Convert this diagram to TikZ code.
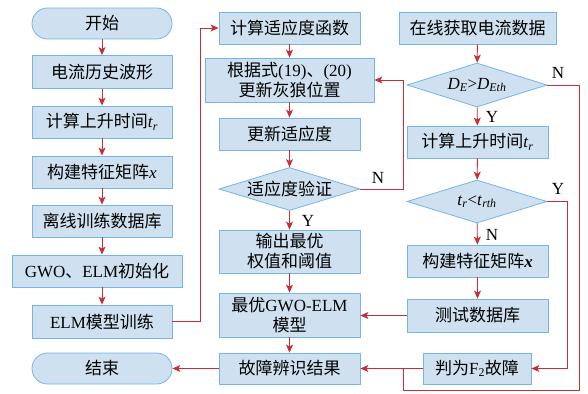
\documentclass[tikz,border=0pt]{standalone}
\usepackage{fontspec}
\setmainfont{Liberation Serif}
\newfontfamily\zh{Noto Sans CJK SC}
\usetikzlibrary{shapes.geometric,arrows.meta}
\definecolor{boxfill}{HTML}{CFE1F0}
\definecolor{boxdraw}{HTML}{74B6E2}
\definecolor{arrred}{HTML}{C62F37}
\tikzset{
  base/.style={draw=boxdraw,fill=boxfill,line width=0.8pt,inner sep=0pt,
    font=\fontsize{17}{20}\selectfont,align=center},
  procbox/.style={base,rectangle,minimum width=141pt,minimum height=32pt},
  termbox/.style={base,rectangle,rounded corners=15.5pt,minimum width=140pt,minimum height=31pt},
  diabox/.style={base,diamond,minimum width=141pt,minimum height=43pt},
  ln/.style={draw=arrred,line width=0.9pt},
  arr/.style={ln,-{Stealth[length=8pt,width=7pt,inset=2pt]}},
  lbl/.style={font=\fontsize{17}{20}\selectfont,inner sep=0pt},
  dtext/.style={font=\fontsize{17}{20}\selectfont,inner sep=0pt,align=center}
}
\begin{document}
\begin{tikzpicture}[x=1pt,y=-1pt]
\useasboundingbox (0,0) rectangle (588,393);
% left column
\node[termbox] (start) at (102,23.5) {\zh 开始};
\node[procbox,minimum width=140pt,minimum height=33pt] (n1) at (102,72) {\zh 电流历史波形};
\node[procbox,minimum width=140pt] (n2) at (102,122) {{\zh 计算上升时间}\textit{t}\textsubscript{\textit{r}}};
\node[procbox,minimum width=140pt] (n3) at (102,172) {{\zh 构建特征矩阵}\textit{x}};
\node[procbox,minimum width=140pt] (n4) at (102,221) {\zh 离线训练数据库};
\node[procbox,minimum width=170pt] (n5) at (97,271) {GWO{\zh 、}ELM{\zh 初始化}};
\node[procbox,minimum width=140pt,minimum height=33pt] (n6) at (102,321.5) {ELM{\zh 模型训练}};
\node[termbox] (stop) at (102,368.5) {\zh 结束};
% middle column
\node[procbox] (m1) at (289.5,28) {\zh 计算适应度函数};
\node[procbox,minimum width=169pt,minimum height=44pt] (m2) at (289.5,80) {{\zh 根据式}(19){\zh 、}(20)\\{\zh 更新灰狼位置}};
\node[procbox] (m3) at (289.5,134) {\zh 更新适应度};
\node[diabox] (d1) at (289.5,189) {};
\node[dtext] (d1t) at (d1) {\zh 适应度验证};
\node[procbox,minimum height=43pt] (m4) at (289.5,251.5) {{\zh 输出最优}\\{\zh 权值和阈值}};
\node[procbox,minimum height=44pt] (m5) at (289.5,315) {{\zh 最优}GWO-ELM\\{\zh 模型}};
\node[procbox,minimum height=31pt] (m6) at (289.5,368.5) {\zh 故障辨识结果};
% right column
\node[procbox,minimum width=157pt] (r1) at (477.5,28) {\zh 在线获取电流数据};
\node[diabox,minimum width=140pt,minimum height=44pt] (d2) at (477,85) {};
\node[dtext] (d2t) at (d2) {\textit{D}\textsubscript{\textit{E}}>\textit{D}\textsubscript{\textit{Eth}}};
\node[procbox] (r2) at (477.5,142) {{\zh 计算上升时间}\textit{t}\textsubscript{\textit{r}}};
\node[diabox,minimum width=140pt] (d3) at (477,201.5) {};
\node[dtext] (d3t) at (d3) {\textit{t}\textsubscript{\textit{r}}<\textit{t}\textsubscript{\textit{rth}}};
\node[procbox] (r3) at (477.5,261) {{\zh 构建特征矩阵}\textbf{\textit{x}}};
\node[procbox,minimum height=33pt] (r4) at (477.5,315.5) {\zh 测试数据库};
\node[procbox,minimum width=108pt,minimum height=31pt] (r5) at (477,368.5) {{\zh 判为}F\textsubscript{2}{\zh 故障}};
% labels
\node[lbl] (ln1) at (378,178) {N};
\node[lbl] (ly1) at (308,221) {Y};
\node[lbl] (ln2) at (558,73) {N};
\node[lbl] (ly2) at (492,117) {Y};
\node[lbl] (ly3) at (558,189) {Y};
\node[lbl] (ln3) at (492,235) {N};
% left arrows
\draw[arr] (start) -- (n1);
\draw[arr] (n1) -- (n2);
\draw[arr] (n2) -- (n3);
\draw[arr] (n3) -- (n4);
\draw[arr] (n4.south) -- (n4.south |- n5.north);
\draw[arr] (n4.south |- n5.south) -- (n6.north);
\draw[arr] (n6.east) -- ++(28,0) |- (m1.west);
% middle arrows
\draw[arr] (m1) -- (m2);
\draw[arr] (m2) -- (m3);
\draw[arr] (m3) -- (d1);
\draw[arr] (d1) -- (m4);
\draw[arr] (m4) -- (m5);
\draw[arr] (m5) -- (m6);
\draw[arr] (d1.east) -- ++(43,0) |- (m2.east);
\draw[arr] (m6.west) -- (stop.east);
% right arrows
\draw[arr] (r1) -- (d2);
\draw[arr] (d2) -- (r2);
\draw[arr] (r2) -- (d3);
\draw[arr] (d3) -- (r3);
\draw[arr] (r3) -- (r4);
\draw[arr] (r4.west) -- (r4.west -| m5.east);
\draw[arr] (d3.east) -- ++(20,0) |- (r5.east);
\draw[arr] (r5.west) -- (m6.east);
\coordinate (j1) at (403,368.5);
\coordinate (j2) at (403,390.5);
\draw[ln] (d2.east) -- ++(32,0) |- (j2) -- (j1);
\end{tikzpicture}
\end{document}
